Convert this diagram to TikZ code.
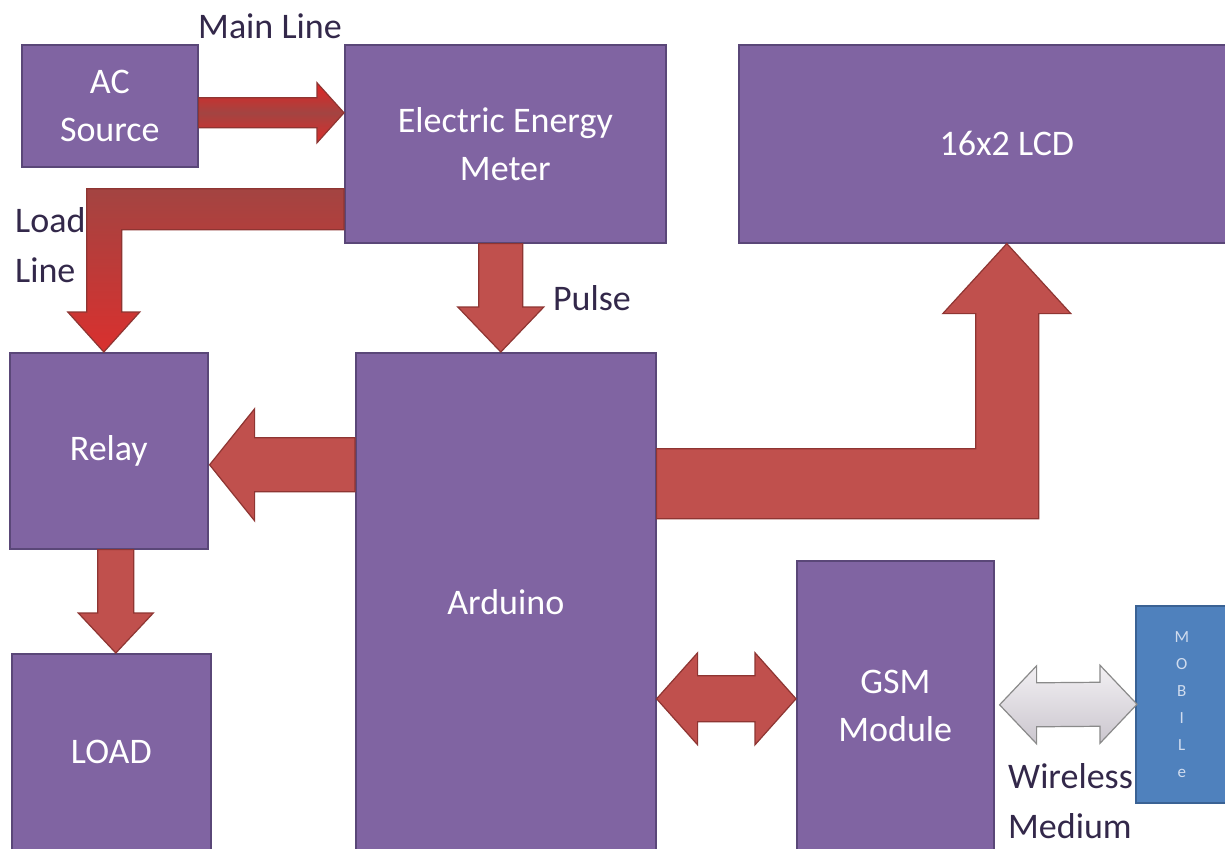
\documentclass[tikz,border=0pt]{standalone}
\usepackage{fontspec}
\setmainfont{Carlito}
\usetikzlibrary{calc}
\definecolor{boxfill}{HTML}{8064A2}
\definecolor{boxline}{HTML}{5A4778}
\definecolor{arrfill}{HTML}{C0504D}
\definecolor{arrline}{HTML}{8E3532}
\definecolor{lbl}{HTML}{33284A}
\definecolor{mobfill}{HTML}{4F81BD}
\definecolor{mobline}{HTML}{3A6294}
\definecolor{mobtext}{HTML}{D0DCEE}
\definecolor{grayline}{HTML}{8A8A8A}
\definecolor{graytop}{HTML}{F2F0F3}
\definecolor{graybot}{HTML}{CBC6CE}
\begin{document}
\begin{tikzpicture}[x=1pt,y=-1pt,
  box/.style={draw=boxline, line width=1.6pt, fill=boxfill, rectangle, anchor=north west,
    inner sep=0pt, text=white, font=\fontsize{36}{48}\selectfont, align=center},
  blk/.style={fill=arrfill, draw=arrline, line width=1.2pt, line join=miter},
  lab/.style={text=lbl, font=\fontsize{36}{48}\selectfont, inner sep=0pt}]
\useasboundingbox (0,0) rectangle (1225,848);
\fill[white] (0,0) rectangle (1225,848);

% blocks
\node[box, minimum width=176pt, minimum height=122pt] (ac) at (21,44) {AC\\Source};
\node[box, minimum width=321pt, minimum height=198pt] (meter) at (344,44) {Electric Energy\\Meter};
\node[box, minimum width=536pt, minimum height=198pt] (lcd) at (738,44) {16x2 LCD};
\node[box, minimum width=198pt, minimum height=196pt] (relay) at (9,352) {Relay};
\node[box, minimum width=300pt, minimum height=498pt] (ard) at (355,352) {Arduino};
\node[box, minimum width=199pt, minimum height=196pt] (load) at (11,653) {LOAD};
\node[box, minimum width=197pt, minimum height=290pt] (gsm) at (796,560) {GSM\\Module};
\node[draw=mobline, fill=mobfill, line width=1.5pt, anchor=north west, inner sep=0pt,
  minimum width=92pt, minimum height=197pt, text=mobtext, align=center,
  font=\fontsize{17}{27}\selectfont] (mob) at (1135,605) {M\\O\\B\\I\\L\\e};

% labels
\node[lab] (mainlbl) at (270,26) {Main Line};
\node[lab, anchor=west] (loadlbl) at (15,220) {Load};
\node[lab, anchor=west] (linelbl) at (15,270) {Line};
\node[lab] (pulselbl) at (592,298) {Pulse};
\node[lab, anchor=west] (wlbl) at (1008,776) {Wireless};
\node[lab, anchor=west] (mlbl) at (1008,826) {Medium};

% AC source -> meter (main line)
\coordinate (m1) at ($(ac.east)+(0,7)$);
\coordinate (m2) at (meter.west |- m1);
\draw[draw=arrline, line width=1.2pt, top color=red!55!arrfill, bottom color=red!45!arrfill, middle color=arrfill!85!black]
  ($(m1)+(0,-15)$) -- ($(m2)+(-27,-15)$) -- ($(m2)+(-27,-30)$) -- (m2) --
  ($(m2)+(-27,30)$) -- ($(m2)+(-27,15)$) -- ($(m1)+(0,15)$) -- cycle;

% meter -> relay (load line)
\coordinate (l1) at ($(meter.west)+(0,45)$);
\coordinate (l2) at ($(relay.north)+(-5,0)$);
\draw[draw=arrline, line width=1.2pt, top color=arrfill!85!black, bottom color=red!40!arrfill]
  (l1) -- ($(l2|-l1)+(-17,0)$) -- ($(l2)+(-17,-40)$) -- ($(l2)+(-36,-40)$) -- (l2) --
  ($(l2)+(36,-40)$) -- ($(l2)+(18,-40)$) -- ($(l2|-l1)+(18,41)$) -- ($(l1)+(0,41)$) -- cycle;

% meter -> arduino (pulse)
\coordinate (p2) at ($(ard.north)+(-5,0)$);
\coordinate (p1) at (p2 |- meter.south);
\draw[blk] ($(p1)+(-22,0)$) -- ($(p2)+(-22,-45)$) -- ($(p2)+(-43,-45)$) -- (p2) --
  ($(p2)+(43,-45)$) -- ($(p2)+(22,-45)$) -- ($(p1)+(22,0)$) -- cycle;

% arduino -> relay
\coordinate (r2) at ($(relay.east)+(1,14)$);
\coordinate (r1) at (ard.west |- r2);
\draw[blk] ($(r1)+(0,-27)$) -- ($(r2)+(45,-27)$) -- ($(r2)+(45,-56)$) -- (r2) --
  ($(r2)+(45,56)$) -- ($(r2)+(45,27)$) -- ($(r1)+(0,27)$) -- cycle;

% relay -> load
\coordinate (d2) at ($(load.north)+(4.5,0)$);
\coordinate (d1) at (d2 |- relay.south);
\draw[blk] ($(d1)+(-18,0)$) -- ($(d2)+(-18,-40)$) -- ($(d2)+(-37.5,-40)$) -- (d2) --
  ($(d2)+(37.5,-40)$) -- ($(d2)+(18,-40)$) -- ($(d1)+(18,0)$) -- cycle;

% arduino -> lcd
\coordinate (c2) at (lcd.south);
\coordinate (c1) at ($(ard.east)+(0,-83)$);
\draw[blk] (c1) -- ($(c2|-c1)+(32,0)$) -- ($(c2)+(32,70)$) -- ($(c2)+(64,70)$) -- (c2) --
  ($(c2)+(-64,70)$) -- ($(c2)+(-31,70)$) -- ($(c2|-c1)+(-31,-70)$) -- ($(c1)+(0,-70)$) -- cycle;

% arduino <-> gsm
\coordinate (g1) at ($(gsm.west)+(0,-7)$);
\coordinate (g0) at (ard.east |- g1);
\draw[blk] (g0) -- ($(g0)+(41,-46)$) -- ($(g0)+(41,-23)$) -- ($(g1)+(-41,-23)$) --
  ($(g1)+(-41,-46)$) -- (g1) -- ($(g1)+(-41,46)$) -- ($(g1)+(-41,23)$) --
  ($(g0)+(41,23)$) -- ($(g0)+(41,46)$) -- cycle;

% gsm <-> mobile (wireless)
\coordinate (w0) at ($(gsm.east)+(5,-1)$);
\coordinate (w1) at ($(mob.west)+(2,0)$);
\draw[draw=grayline, line width=1.2pt, top color=graytop, bottom color=graybot]
  (w0) -- ($(w0)+(37,-39)$) -- ($(w0)+(37,-22)$) -- ($(w1)+(-37,-22)$) --
  ($(w1)+(-37,-39)$) -- (w1) -- ($(w1)+(-37,39)$) -- ($(w1)+(-37,22)$) --
  ($(w0)+(37,22)$) -- ($(w0)+(37,39)$) -- cycle;
\end{tikzpicture}
\end{document}
